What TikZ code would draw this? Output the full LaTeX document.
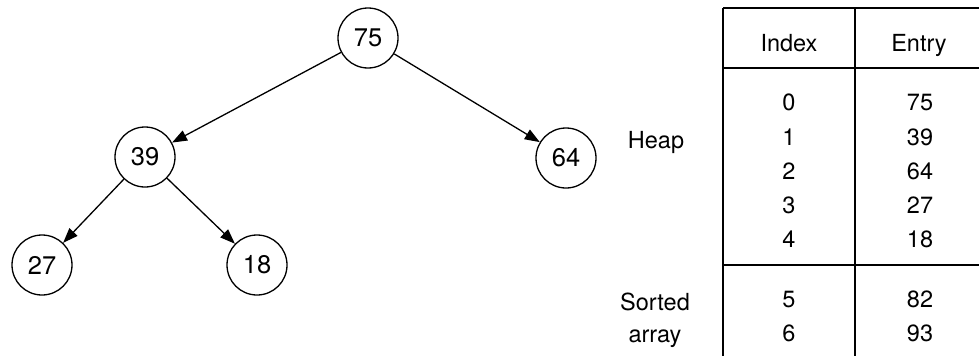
\documentclass[tikz,border=0pt]{standalone}
\usepackage{fontspec}
\setmainfont{TeX Gyre Heros}
\usetikzlibrary{arrows.meta}
\begin{document}
\begin{tikzpicture}[x=1pt,y=-1pt,
  heapnode/.style={circle,draw,line width=1.3pt,minimum size=60pt,inner sep=0pt,
    font=\fontsize{25.5}{30}\selectfont},
  edge/.style={line width=1.3pt,-{Triangle[length=15pt,width=11pt]}},
  tline/.style={line width=1.6pt},
  cell/.style={inner sep=0pt,text height=16.5pt,text depth=0pt,anchor=center,
    font=\fontsize{23.5}{27}\selectfont},
  head/.style={cell,text height=16.8pt},
  side/.style={cell,text height=16.8pt}]
\useasboundingbox (0,0) rectangle (979,356);
% tree
\node[heapnode] (n75) at (368,38) {75};
\node[heapnode] (n39) at (145,157) {39};
\node[heapnode] (n64) at (566,158) {64};
\node[heapnode] (n27) at (42,265) {27};
\node[heapnode] (n18) at (257,265) {18};
\draw[edge] (n75) -- (n39);
\draw[edge] (n75) -- (n64);
\draw[edge] (n39) -- (n27);
\draw[edge] (n39) -- (n18);
% table
\coordinate (tl) at (723,8);
\coordinate (tr) at (979,8);
\coordinate (tm) at (855,8);
\coordinate (bl) at (723,356);
\coordinate (bm) at (855,356);
\coordinate (hl) at (723,68);
\coordinate (hr) at (979,68);
\coordinate (sl) at (723,265);
\coordinate (sr) at (979,265);
\draw[tline] (tl) -- (tr);
\draw[tline] (hl) -- (hr);
\draw[tline] (sl) -- (sr);
\draw[tline] (tl) -- (bl);
\draw[tline] (tm) -- (bm);
\node[head] (hidx) at (789,43) {Index};
\node[head] (hent) at (919,43) {Entry};
\foreach \i/\v/\y in {0/75/102,1/39/137,2/64/171,3/27/205,4/18/239,5/82/299,6/93/333}{
  \node[cell] (i\i) at (789,\y) {\i};
  \node[cell] (e\i) at (920,\y) {\v};
}
\node[side] (lheap) at (656,140) {Heap};
\node[side] (lsorted) at (655,302) {Sorted};
\node[side] (larray) at (655,334) {array};
\end{tikzpicture}
\end{document}
